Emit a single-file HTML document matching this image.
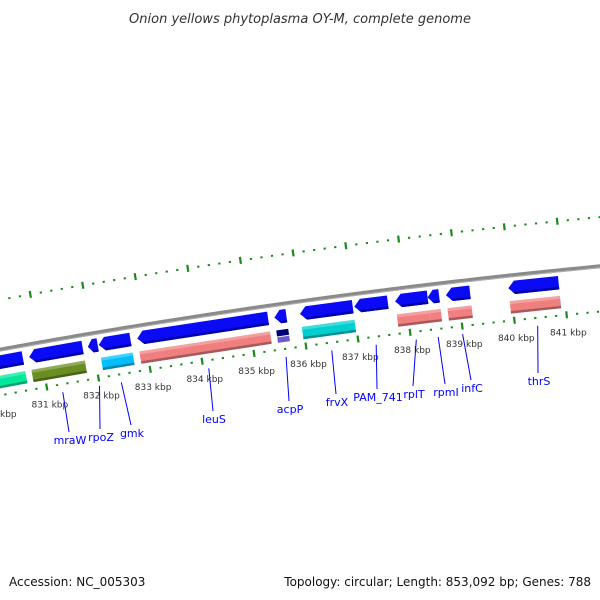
<!DOCTYPE html>
<html><head><meta charset="utf-8">
<style>
html,body{margin:0;padding:0;background:#fff;}
svg{display:block;}
.kb{font:9px "DejaVu Sans","Liberation Sans",sans-serif;fill:#333;}
.gl{font:11px "DejaVu Sans","Liberation Sans",sans-serif;fill:#0000ff;}
.ft{font:12px "DejaVu Sans","Liberation Sans",sans-serif;fill:#111;}
.tt{font:italic 13px "DejaVu Sans","Liberation Sans",sans-serif;fill:#333;}
</style></head>
<body>
<svg id="chart" width="600" height="600" viewBox="0 0 600 600" xmlns="http://www.w3.org/2000/svg">
<text class="tt" x="300" y="23" text-anchor="middle">Onion yellows phytoplasma OY-M, complete genome</text>
<g id="rings"></g>
<g id="genesG"></g>
<g id="labelsG"></g>
<text class="ft" x="9" y="586">Accession: NC_005303</text>
<text class="ft" x="591" y="586" text-anchor="end">Topology: circular; Length: 853,092 bp; Genes: 788</text>
</svg>
<script>
// ---- data ----
const genes = ["g0","mraW","rpoZ","gmk","leuS","acpP","frvX","PAM_741","rplT","rpmI","infC","thrS"];
const geneStarts = [829.4,830.77,831.90,832.11,832.85,835.48,835.97,837.01,837.79,838.41,838.76,839.95];
const geneEnds   = [830.65,831.80,832.09,832.72,835.36,835.71,836.98,837.65,838.41,838.63,839.22,840.91];
const geneColors = ["#00e89c","#6b8e23",null,"#00bfff","#f08080","acp","#00cfcf",null,"#f08080","#f08080","#f08080","#f08080"];
const tickStart = 829, tickEnd = 843;
const labelNames = ["mraW","rpoZ","gmk","leuS","acpP","frvX","PAM_741","rplT","rpmI","infC","thrS"];
const labelX = [70,101,132,214,290,337,378,414,446,472,539];
const labelY = [444,441,437,423,413,406,401,398,396,392,385];

// ---- axis ----
const R = 7000, T0 = 7.9*Math.PI/180, PX = 52.5;
const P0 = [306,346];
const CX = P0[0] + R*Math.sin(T0), CY = P0[1] + R*Math.cos(T0);
function pos(k,d){
  const a = T0 - (k-836)*PX/R;
  return [CX-(R+d)*Math.sin(a), CY-(R+d)*Math.cos(a)];
}
const NS="http://www.w3.org/2000/svg";
function mk(tag,parent){const e=document.createElementNS(NS,tag);parent.appendChild(e);return e;}
function pts(arr){return arr.map(p=>{const q=pos(p[0],p[1]);return q[0].toFixed(2)+","+q[1].toFixed(2);}).join(" ");}

const rings=document.getElementById("rings");
// gray backbone
{
  const a=[];for(let k=tickStart;k<=tickEnd;k+=0.1)a.push([k,45]);
  const pl=mk("polyline",rings);
  
  
  pl.setAttribute("points",pts(a));pl.setAttribute("fill","none");pl.setAttribute("stroke","#8a8a8a");pl.setAttribute("stroke-width","4");
  const b=[];for(let k=tickStart;k<=tickEnd;k+=0.1)b.push([k,43.5]);
  const pl2=mk("polyline",rings);
  
  
  pl2.setAttribute("points",pts(b));pl2.setAttribute("fill","none");pl2.setAttribute("stroke","#b0b0b0");pl2.setAttribute("stroke-width","1");
}
// ticks on two rings
[0,94].forEach(function(rd,ri){
  for(let i=0;i<=(tickEnd-tickStart)*5;i++){
    const k=tickStart+i*0.2;
    const major=(i%5===0);
    const l=mk("polyline",rings);
    
    
    const h=major?3.5:1;
    l.setAttribute("points",pts([[k,rd-h],[k,rd+h]]));
    l.setAttribute("stroke","#1a8a1a");l.setAttribute("stroke-width","2.2");
    if(major && ri===0){
      const p=pos(k,-18);
      const t=mk("text",rings);
      
      
      t.setAttribute("class","kb");t.setAttribute("x",p[0].toFixed(1));t.setAttribute("y",(p[1]+3).toFixed(1));
      t.setAttribute("text-anchor","middle");t.textContent=Math.round(k)+" kbp";
    }
  }
});
// genes
const gg=document.getElementById("genesG");
genes.forEach(function(g,i){
  const s=geneStarts[i],e=geneEnds[i];
  const h=Math.min(0.12,(e-s)*0.5);
  const ar=mk("polygon",gg);
  
  
  ar.setAttribute("points",pts([[s,32.5],[s+h,39.5],[e,39.5],[e,26],[s+h,26]]));
  ar.setAttribute("fill","#0a0af5");
  const sh=mk("polygon",gg);
  
  
  sh.setAttribute("points",pts([[s+h*0.5,29],[s+h,26],[e,26],[e,28.5],[s+h*0.6,28.5]]));
  sh.setAttribute("fill","#0000a8");
  const c=geneColors[i];
  if(c==="acp"){
    const b1=mk("polygon",gg);
    
    
    b1.setAttribute("points",pts([[s,13.5],[e,13.5],[e,19.5],[s,19.5]]));b1.setAttribute("fill","#00007a");
    const b2=mk("polygon",gg);
    
    
    b2.setAttribute("points",pts([[s,7],[e,7],[e,12.5],[s,12.5]]));b2.setAttribute("fill","#6a5acd");
  } else if(c){
    const b=mk("polygon",gg);
    
    
    b.setAttribute("points",pts([[s,7],[e,7],[e,19.5],[s,19.5]]));b.setAttribute("fill",c);
    const t=mk("polygon",gg);
    
    
    t.setAttribute("points",pts([[s,16.5],[e,16.5],[e,19.5],[s,19.5]]));t.setAttribute("fill","#ffffff");t.setAttribute("fill-opacity","0.25");
    const d=mk("polygon",gg);
    
    
    d.setAttribute("points",pts([[s,7],[e,7],[e,9.5],[s,9.5]]));d.setAttribute("fill","#000000");d.setAttribute("fill-opacity","0.3");
  }
});
// labels
const lg=document.getElementById("labelsG");
labelNames.forEach(function(n,i){
  const gi=genes.indexOf(n);
  const m=(geneStarts[gi]+geneEnds[gi])/2;
  const p=pos(m,-8);
  const l=mk("line",lg);
  
  
  l.setAttribute("x1",p[0].toFixed(1));l.setAttribute("y1",p[1].toFixed(1));
  l.setAttribute("x2",labelX[i]-1);l.setAttribute("y2",labelY[i]-12);
  l.setAttribute("stroke","#0000ff");l.setAttribute("stroke-width","1");
  const t=mk("text",lg);
  
  
  t.setAttribute("class","gl");t.setAttribute("x",labelX[i]);t.setAttribute("y",labelY[i]);
  t.setAttribute("text-anchor","middle");t.textContent=n;
});
</script>
</body></html>
